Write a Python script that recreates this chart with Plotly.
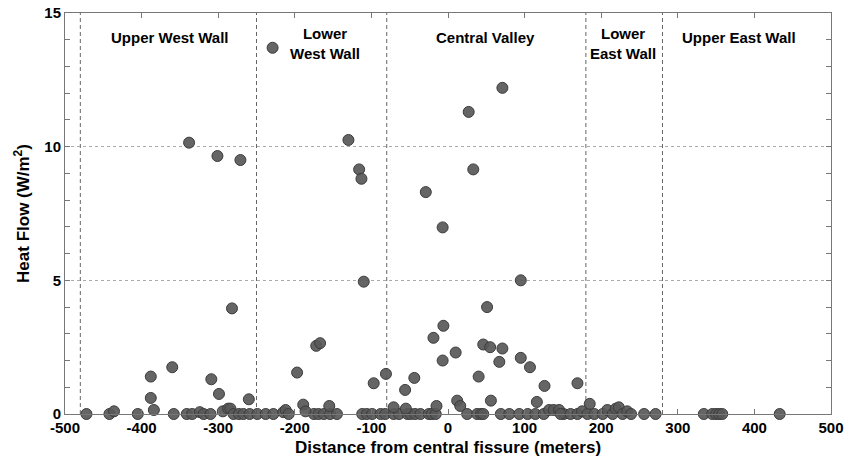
import plotly.graph_objects as go

# Scattered (non-zero) heat-flow measurements
x_high = [-229, -338, -301, -271, -282, -388, -360, -388, -384, -309, -299, -260,
          -197, -189, -186, -172, -167, -155, -130, -116, -113, -110, -97, -81,
          -71, -56, -55, -44, -29, -19, -15, -7, -7, -6, 10, 12, 16, 27, 33, 40,
          46, 51, 55, 56, 67, 71, 71, 95, 95, 107, 116, 126, 169, 185]
y_high = [13.7, 10.15, 9.65, 9.5, 3.95, 1.4, 1.75, 0.6, 0.15, 1.3, 0.75, 0.55,
          1.55, 0.35, 0.1, 2.55, 2.65, 0.3, 10.25, 9.15, 8.8, 4.95, 1.15, 1.5,
          0.25, 0.9, 0.2, 1.35, 8.3, 2.85, 0.3, 6.98, 2.0, 3.3, 2.3, 0.5, 0.3, 11.3, 9.15, 1.4,
          2.6, 4.0, 2.5, 0.5, 1.95, 12.2, 2.45, 5.0, 2.1, 1.75, 0.45, 1.05, 1.15, 0.38]

# Near-zero measurements
x_low = [-472, -442, -436, -405, -358, -341, -334, -324, -319, -310, -294, -287,
         -284, -280, -273, -267, -259, -249, -238, -228, -215, -212, -208, -175,
         -169, -162, -154, -145, -112, -106, -99, -88, -82, -71, -64, -53, -49,
         -43, -36, -25, -21, -16, 25, 38, 43, 46, 69, 80, 93, 104, 114, 125, 132,
         138, 145, 151, 147, 160, 169, 175, 182, 191, 202, 208, 215, 219, 223,
         228, 234, 239, 256, 271, 334, 345, 350, 354, 358, 433]
y_low = [0, 0, 0.1, 0, 0, 0, 0, 0.07, 0, 0, 0.1, 0.2,
         0.2, 0, 0, 0, 0, 0, 0, 0, 0.07, 0.15, 0, 0,
         0, 0, 0, 0, 0, 0, 0, 0, 0, 0, 0, 0, 0,
         0, 0, 0, 0, 0, 0, 0, 0, 0, 0, 0, 0, 0, 0, 0, 0.15,
         0.15, 0.15, 0, 0, 0, 0, 0.1, 0, 0, 0, 0.15, 0, 0.2, 0.25,
         0, 0.1, 0, 0, 0, 0, 0, 0, 0, 0, 0]

boundaries = [-480, -250, -80, 180, 280]
region_labels = ["Upper West Wall", "Lower<br>West Wall", "Central Valley",
                 "Lower<br>East Wall", "Upper East Wall"]
region_x = [-363, -160, 49, 228, 380]
region_y = [0.9377, 0.9227, 0.9377, 0.9227, 0.9377]

x_ticks = [-500, -400, -300, -200, -100, 0, 100, 200, 300, 400, 500]
x_ticktext = ["-500", "-400", "-300", "-200", "-100", "0", "100", "200", "300", "400", "500"]
y_ticks = [0, 5, 10, 15]

FONT = "Arial, Liberation Sans, sans-serif"

fig = go.Figure()
fig.add_trace(go.Scatter(
    x=x_low + x_high, y=y_low + y_high, mode="markers",
    marker=dict(size=11, color="rgba(88,88,88,0.92)",
                line=dict(color="#3c3c3c", width=1)),
    showlegend=False, cliponaxis=False))

for b in boundaries:
    fig.add_shape(type="line", x0=b, x1=b, y0=0, y1=1, yref="paper", xref="x",
                  line=dict(color="#666666", width=1, dash="4px,3px"), layer="below")

for lab, lx, ly in zip(region_labels, region_x, region_y):
    fig.add_annotation(x=lx, y=ly, xref="x", yref="paper", text=lab,
                       showarrow=False, align="center",
                       xanchor="center", yanchor="middle",
                       font=dict(family=FONT, size=15, color="black", weight="bold"))

fig.update_layout(
    width=848, height=461, margin=dict(l=65, r=17, t=13, b=47, autoexpand=False),
    paper_bgcolor="white", plot_bgcolor="white",
    xaxis=dict(range=[-500, 500], tickvals=x_ticks, ticktext=x_ticktext,
               ticks="inside", ticklen=5, automargin=False,
               tickcolor="#777", showline=True, linecolor="#777", linewidth=1,
               mirror="ticks", showgrid=False, zeroline=False,
               tickfont=dict(family=FONT, size=15, color="black", weight="bold"),
               title=dict(text="Distance from central fissure (meters)", standoff=6,
                          font=dict(family=FONT, size=17, color="black", weight="bold"))),
    yaxis=dict(range=[0, 15], tickvals=y_ticks, ticks="inside", ticklen=5,
               automargin=False,
               tickcolor="#777", showline=True, linecolor="#777", linewidth=1,
               mirror="ticks", showgrid=True, gridcolor="#aaaaaa", griddash="dot",
               gridwidth=1, zeroline=False,
               minor=dict(dtick=1, ticks="inside", ticklen=5, tickcolor="#777",
                          showgrid=False),
               tickfont=dict(family=FONT, size=15, color="black", weight="bold"),
               title=dict(text="Heat Flow (W/m<sup>2</sup>)", standoff=10,
                          font=dict(family=FONT, size=17, color="black", weight="bold"))),
)

fig.write_html("out.html")
